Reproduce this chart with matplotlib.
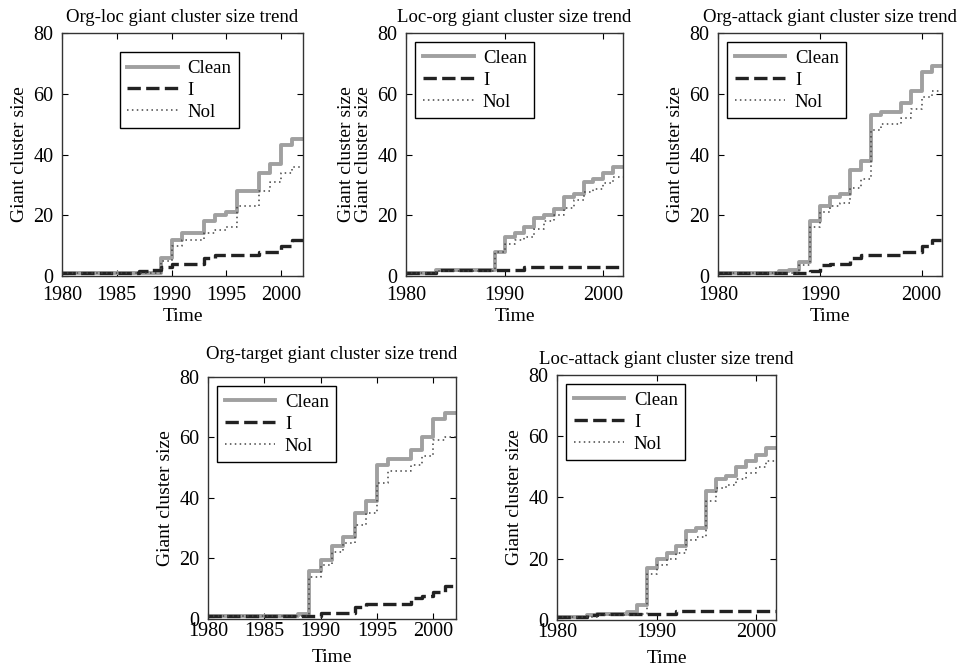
import numpy as np
import matplotlib
matplotlib.use("Agg")
import matplotlib.pyplot as plt

plt.rcParams['font.family'] = ['Liberation Serif', 'DejaVu Serif']

# yearly values, each one holds until the next year (stairs)
years = list(range(1980, 2003))

org_loc_clean = [1, 1, 1, 1, 1, 1, 1, 1, 1, 6, 12, 14, 14, 18, 20, 21, 28, 28, 34, 37, 43, 45, 45]
org_loc_i = [1, 1, 1, 1, 1, 1, 1, 1.5, 2, 3, 4, 4, 4, 6, 7, 7, 7, 7, 8, 8, 10, 12, 12]
org_loc_nol = [1, 1, 1, 1, 1, 1, 1, 1, 1, 5, 10, 12, 12, 14, 15, 16, 23, 23, 28, 31, 34, 36, 36]

loc_org_clean = [1, 1, 1, 2, 2, 2, 2, 2, 2, 8, 13, 14, 16, 19, 20, 22, 26, 27, 31, 32, 34, 36, 36]
loc_org_i = [1, 1, 1, 2, 2, 2, 2, 2, 2, 2, 2, 2, 3, 3, 3, 3, 3, 3, 3, 3, 3, 3, 3]
loc_org_nol = [1, 1, 1, 1.5, 1.5, 1.5, 1.5, 1.5, 1.5, 8, 10.5, 12, 13, 15.5, 18, 20, 22.5, 25, 27.5, 28.5, 30.5, 32.5, 32.5]

org_attack_clean = [1, 1, 1, 1, 1, 1, 1.5, 2, 4.5, 18, 23, 26, 27, 35, 38, 53, 54, 54, 57, 61, 67, 69, 69]
org_attack_i = [1, 1, 1, 1, 1, 1, 1, 1, 1, 1.5, 3.5, 4, 4, 6, 7, 7, 7, 7, 8, 8, 10, 12, 12]
org_attack_nol = [1, 1, 1, 1, 1, 1, 1, 1, 3.5, 16, 21, 23, 24, 29, 32, 48, 50, 50, 52, 55, 59, 61, 61]

org_target_clean = [1, 1, 1, 1, 1, 1, 1, 1, 1.5, 16, 19.5, 24, 27, 35, 39, 51, 53, 53, 56, 60, 66, 68, 68]
org_target_i = [1, 1, 1, 1, 1, 1, 1, 1, 1, 1, 2, 2, 2, 4, 5, 5, 5, 5, 7, 7.5, 9, 11, 11]
org_target_nol = [1, 1, 1, 1, 1, 1, 1, 1, 1, 14, 18, 22, 25, 31, 35, 45, 49, 49, 51, 54, 59, 60, 60]

loc_attack_clean = [1, 1, 1, 1.5, 2, 2, 2, 2.5, 5, 17, 20, 22, 24, 29, 30, 42, 46, 47, 50, 52, 54, 56, 56]
loc_attack_i = [1, 1, 1, 1.5, 2, 2, 2, 2, 2, 2, 2, 2, 3, 3, 3, 3, 3, 3, 3, 3, 3, 3, 3]
loc_attack_nol = [1, 1, 1, 1, 1.5, 1.5, 1.5, 1.5, 2, 15, 18, 20, 22, 26, 27, 39, 43, 44, 46, 48, 50, 52, 52]

titles = ["Org-loc giant cluster size trend", "Loc-org giant cluster size trend",
          "Org-attack giant cluster size trend", "Org-target giant cluster size trend",
          "Loc-attack giant cluster size trend"]
series = [(org_loc_clean, org_loc_i, org_loc_nol),
          (loc_org_clean, loc_org_i, loc_org_nol),
          (org_attack_clean, org_attack_i, org_attack_nol),
          (org_target_clean, org_target_i, org_target_nol),
          (loc_attack_clean, loc_attack_i, loc_attack_nol)]
xticks_list = [[1980, 1985, 1990, 1995, 2000], [1980, 1990, 2000], [1980, 1990, 2000],
               [1980, 1985, 1990, 1995, 2000], [1980, 1990, 2000]]
ylabels = ["Giant cluster size", "Giant cluster size\nGiant cluster size",
           "Giant cluster size", "Giant cluster size", "Giant cluster size"]

# axes rectangles in figure fractions
rects = [[0.0645, 0.5868, 0.2508, 0.3638],
         [0.4225, 0.5868, 0.2258, 0.3638],
         [0.7471, 0.5868, 0.2331, 0.3638],
         [0.2164, 0.0734, 0.2581, 0.3623],
         [0.5796, 0.0719, 0.2279, 0.3668]]
xpads = [7, 7, 7, 2, 2]
xlabelpads = [2, 2, 2, 6, 6]
titlepads = [8, 8, 8, 13, 8]

fig = plt.figure(figsize=(9.61, 6.68), dpi=100)

for k in range(5):
    ax = fig.add_axes(rects[k])
    clean, ii, nol = series[k]
    ax.step(years, clean, where='post', color='#a0a0a0', lw=2.8, label='Clean')
    ax.step(years, ii, where='post', color='#222222', lw=2.4, ls=(0, (4, 1.6)), label='I')
    ax.step(years, nol, where='post', color='#444444', lw=1.1, ls=(0, (1, 2.2)), label='Nol')
    ax.set_xlim(1980, 2002)
    ax.set_ylim(0, 80)
    ax.set_xticks(xticks_list[k])
    ax.set_yticks([0, 20, 40, 60, 80])
    ax.tick_params(direction='in', top=True, right=True, length=4, labelsize=14.5)
    ax.tick_params(axis='x', pad=xpads[k])
    ax.tick_params(axis='y', pad=6)
    for s in ax.spines.values():
        s.set_color('#333333')
        s.set_linewidth(1.0)
    ax.set_title(titles[k], fontsize=13.5, pad=titlepads[k])
    ax.set_xlabel("Time", fontsize=14, labelpad=xlabelpads[k])
    ax.set_ylabel(ylabels[k], fontsize=14, labelpad=4, linespacing=1.0)
    if k == 0:
        leg = ax.legend(loc='upper left', bbox_to_anchor=(0.24, 0.92), fontsize=13.5,
                        handlelength=2.7, handletextpad=0.5, fancybox=False,
                        edgecolor='black', framealpha=1, borderaxespad=0,
                        labelspacing=0.25)
    else:
        leg = ax.legend(loc='upper left', fontsize=13.5, handlelength=2.7,
                        handletextpad=0.5, fancybox=False, edgecolor='black',
                        framealpha=1, borderaxespad=0.5, labelspacing=0.25)
    leg.get_frame().set_linewidth(1.0)

fig.savefig("out.png", dpi=100)
